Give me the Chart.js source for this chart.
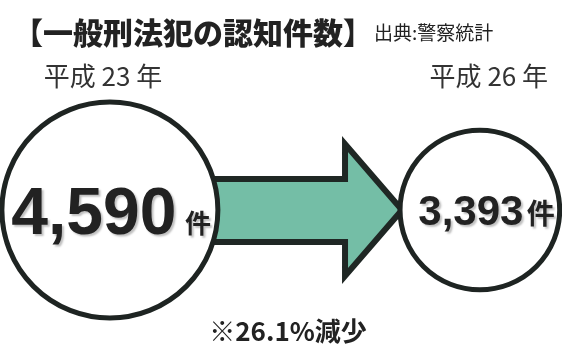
<!DOCTYPE html>
<html>
<head>
<meta charset="utf-8">
<script src="https://cdn.jsdelivr.net/npm/chart.js@4"></script>
<style>
  html, body { margin: 0; padding: 0; background: #fff; }
  #wrap { width: 562px; height: 346px; }
</style>
</head>
<body>
<div id="wrap"><canvas id="chart" width="562" height="346"></canvas></div>
<script>
// data
var years = ['平成 23 年', '平成 26 年'];
var counts = [4590, 3393];
var unit = '件';
var title = '【一般刑法犯の認知件数】';
var source = '出典:警察統計';
var note = '※26.1%減少';

var JP = '"Noto Sans CJK JP", "Noto Sans", sans-serif';
var NUM = '"Liberation Sans", Arial, sans-serif';

// draws the arrow between the two circles, under the bubbles
var arrowPlugin = {
    id: 'arrow',
    beforeDatasetsDraw: function (chart) {
        var ctx = chart.ctx;
        var meta = chart.getDatasetMeta(0);
        var a = meta.data[0], b = meta.data[1];
        var r2 = b.options.radius;
        var cy = (a.y + b.y) / 2;
        var tipX = b.x - r2 + 2;
        var x0 = a.x;
        var headX = tipX - 57;
        ctx.save();
        ctx.beginPath();
        ctx.moveTo(x0, cy - 31);
        ctx.lineTo(headX, cy - 31);
        ctx.lineTo(headX, cy - 66);
        ctx.lineTo(tipX, cy);
        ctx.lineTo(headX, cy + 66);
        ctx.lineTo(headX, cy + 32);
        ctx.lineTo(x0, cy + 32);
        ctx.closePath();
        ctx.fillStyle = '#74bea6';
        ctx.fill();
        ctx.lineWidth = 6;
        ctx.lineJoin = 'miter';
        ctx.strokeStyle = '#1f2724';
        ctx.stroke();
        ctx.restore();
    }
};

// title, year labels, values and the note
var textPlugin = {
    id: 'texts',
    afterDatasetsDraw: function (chart) {
        var ctx = chart.ctx;
        var meta = chart.getDatasetMeta(0);
        ctx.save();
        ctx.textBaseline = 'alphabetic';
        ctx.fillStyle = '#222';

        ctx.font = '900 30px ' + JP;
        ctx.textAlign = 'left';
        ctx.fillText(title, 13, 44);
        var tw = ctx.measureText(title).width;
        ctx.font = '19px ' + JP;
        ctx.fillText(source, 13 + tw + 1, 40);

        ctx.font = '26px ' + JP;
        ctx.textAlign = 'center';
        ctx.fillStyle = '#333';
        ctx.fillText(years[0], meta.data[0].x - 7, 86);
        ctx.fillText(years[1], meta.data[1].x + 9, 86);

        var sizes = [[66, 26], [42, 28]];
        var offs = [[-16, 88], [-9, 61]];
        for (var i = 0; i < counts.length; i++) {
            var p = meta.data[i];
            var s = counts[i].toLocaleString('en-US');
            var base = p.y + sizes[i][0] * 0.36;
            ctx.shadowColor = 'rgba(0,0,0,0.25)';
            ctx.shadowOffsetX = 2;
            ctx.shadowOffsetY = 2;
            ctx.shadowBlur = 2;
            ctx.fillStyle = '#222';
            ctx.font = 'bold ' + sizes[i][0] + 'px ' + NUM;
            ctx.textAlign = 'center';
            ctx.fillText(s, p.x + offs[i][0], base);
            ctx.font = 'bold ' + sizes[i][1] + 'px ' + JP;
            ctx.fillText(unit, p.x + offs[i][1], base - 1);
        }
        ctx.shadowColor = 'transparent';

        ctx.font = 'bold 26px ' + JP;
        ctx.textAlign = 'center';
        ctx.fillStyle = '#222';
        ctx.fillText(note, 288, 341);
        ctx.restore();
    }
};

var points = counts.map(function (v, i) {
    return { x: i, y: 0, r: v / 42.5 };
});

new Chart(document.getElementById('chart'), {
    type: 'bubble',
    data: {
        datasets: [{
            data: points,
            backgroundColor: '#ffffff',
            borderColor: '#1e2422',
            borderWidth: 5,
            hoverBorderWidth: 5,
            clip: false
        }]
    },
    options: {
        responsive: false,
        animation: false,
        events: [],
        layout: { autoPadding: false, padding: { top: 74, bottom: 0, left: 0, right: 0 } },
        scales: {
            x: { type: 'linear', min: -0.297, max: 1.222, display: false },
            y: { type: 'linear', min: -1, max: 1, display: false }
        },
        plugins: {
            legend: { display: false },
            tooltip: { enabled: false }
        }
    },
    plugins: [arrowPlugin, textPlugin]
});
</script>
</body>
</html>
